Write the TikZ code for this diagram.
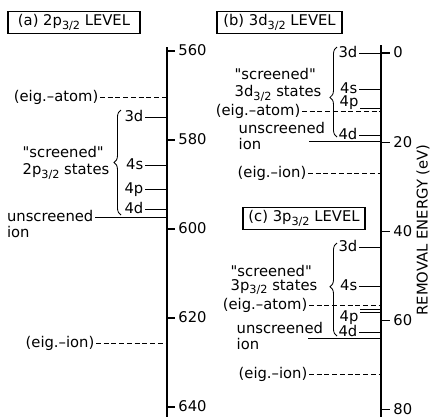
\documentclass[tikz,border=0pt]{standalone}
\usepackage{fontspec}
\setmainfont{DejaVu Sans}
\usetikzlibrary{positioning,decorations.pathreplacing,calc}
\newcommand{\lsub}[1]{\raisebox{-0.45ex}{\fontsize{8}{8}\selectfont #1}}
\tikzset{
  tbox/.style={draw,line width=0.8pt,minimum height=0.53cm,inner sep=2pt},
  lab/.style={inner sep=1pt,text height=7pt,text depth=0pt},
  scr/.style={inner sep=1pt,align=left},
  axis/.style={line width=0.9pt},
  lvl/.style={line width=0.7pt},
  eig/.style={line width=0.7pt,dash pattern=on 3.5pt off 2pt},
  brc/.style={decorate,decoration={brace,amplitude=5pt},line width=0.6pt},
}
\begin{document}
\begin{tikzpicture}[x=0.025cm,y=-0.025cm,font=\fontsize{10.5}{12}\selectfont]
\useasboundingbox (0,0) rectangle (433,417);
% energy axes
\draw[axis] (167,47) coordinate (axa) -- (167,417);
\draw[axis] (381,45) coordinate (axb) -- (381,417);
\foreach \v [count=\i from 0] in {560,580,...,640}
  \draw[axis] (167,51+89*\i) -- ++(8,0) node[lab,anchor=west,xshift=1pt] (ka\i) {\v};
\foreach \v [count=\i from 0] in {0,20,...,80}
  \draw[axis] (381,53+89.2*\i) -- ++(9,0) node[lab,anchor=west,xshift=1pt] (kb\i) {\v};
\node[rotate=90,inner sep=0.5pt] (ylab) at (423,230) {REMOVAL ENERGY (eV)};

% (a) 2p3/2 level
\node[tbox,minimum width=3.3cm] (tia) at (74,22.5) {(a) 2p\lsub{3/2} LEVEL};
\node[lab,anchor=east] (aea) at (100,97) {(eig.--atom)};
\draw[eig] (aea.east) -- (aea.east -| axa);
\node[lab,anchor=east] (a3d) at (145,117) {3d};
\node[lab,anchor=east] (a4s) at (145,165) {4s};
\node[lab,anchor=east] (a4p) at (145,189) {4p};
\node[lab,anchor=east] (a4d) at (145,209) {4d};
\foreach \n in {a3d,a4s,a4p,a4d}
  \draw[lvl] (\n.east) -- (\n.east -| axa);
\node[lab,anchor=east] (aun) at (95,217) {unscreened};
\node[lab,below=2pt of aun.south west,anchor=north west] (aion) {ion};
\draw[lvl] (aun.east) -- (aun.east -| axa);
\draw[brc] (121,215) -- (121,110);
\node[scr,anchor=east] (ascr) at (111,163) {\textquotedbl screened\textquotedbl\\2p\lsub{3/2} states};
\node[lab,anchor=east] (aei) at (96,343) {(eig.--ion)};
\draw[eig] (aei.east) -- (aei.east -| axa);

% (b) 3d3/2 level
\node[tbox,minimum width=3.125cm] (tib) at (279.5,22.5) {(b) 3d\lsub{3/2} LEVEL};
\node[lab,anchor=east] (b3d) at (359,53) {3d};
\node[lab,anchor=east] (b4s) at (359,89) {4s};
\node[lab,anchor=east] (b4d) at (359,135) {4d};
\foreach \n in {b3d,b4s,b4d}
  \draw[lvl] (\n.east) -- (\n.east -| axb);
\node[lab] (b4p) at (349,102) {4p};
\draw[lvl] (b4p.south east) -- (b4p.south east -| axb);
\node[lab,anchor=east] (bea) at (302,111) {(eig.--atom)};
\draw[eig] (bea.east) -- (bea.east -| axb);
\node[lab,anchor=west] (bun) at (237,129) {unscreened};
\node[lab,below=2pt of bun.south west,anchor=north west] (bion) {ion};
\coordinate (bui) at (309,141);
\draw[lvl] (bui) -- (bui -| axb);
\draw[brc,decoration={aspect=0.44}] (337,137) -- (337,47);
\node[scr,anchor=west] (bscr) at (233,85) {\textquotedbl screened\textquotedbl\\3d\lsub{3/2} states};
\node[lab,anchor=east] (bei) at (308,173) {(eig.--ion)};
\draw[eig] (bei.east) -- (bei.east -| axb);

% (c) 3p3/2 level
\node[tbox,minimum width=3.05cm] (tic) at (304,218.5) {(c) 3p\lsub{3/2} LEVEL};
\node[lab,anchor=east] (c3d) at (359,247) {3d};
\node[lab,anchor=east] (c4s) at (359,286) {4s};
\node[lab,anchor=east] (c4d) at (359,332) {4d};
\foreach \n in {c3d,c4s,c4d}
  \draw[lvl] (\n.east) -- (\n.east -| axb);
\node[lab] (c4p) at (349,317) {4p};
\draw[lvl] (c4p.north east) ++(0,-1) coordinate (c4pa) -- (c4pa -| axb);
\draw[lvl] (c4p.north east) ++(0,2) coordinate (c4pb) -- (c4pb -| axb);
\node[lab,anchor=east] (cea) at (309,305) {(eig.--atom)};
\draw[eig] (cea.east) -- (cea.east -| axb);
\node[lab,anchor=west] (cun) at (235,329) {unscreened};
\node[lab,below=2pt of cun.south west,anchor=north west] (cion) {ion};
\coordinate (cui) at (308,338);
\draw[lvl] (cui) -- (cui -| axb);
\draw[brc,decoration={aspect=0.53}] (337,336) -- (337,243);
\node[scr,anchor=west] (cscr) at (229,280) {\textquotedbl screened\textquotedbl\\[-2pt]3p\lsub{3/2} states};
\node[lab,anchor=east] (cei) at (309,374) {(eig.--ion)};
\draw[eig] (cei.east) -- (cei.east -| axb);
\end{tikzpicture}
\end{document}
